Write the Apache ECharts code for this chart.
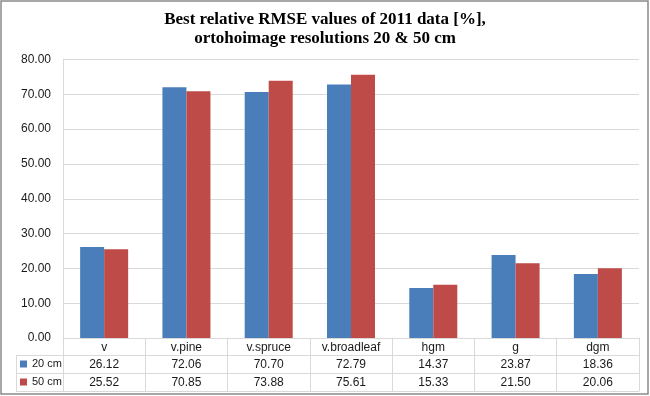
<!DOCTYPE html>
<html>
<head>
<meta charset="utf-8">
<script src="https://cdn.jsdelivr.net/npm/echarts@6/dist/echarts.min.js"></script>
<style>
  html, body { margin: 0; padding: 0; background: #fff; }
  #chart { width: 650px; height: 396px; }
</style>
</head>
<body>
<div id="chart"></div>
<script>
const categories = ['v', 'v.pine', 'v.spruce', 'v.broadleaf', 'hgm', 'g', 'dgm'];
const res20 = [26.12, 72.06, 70.70, 72.79, 14.37, 23.87, 18.36];
const res50 = [25.52, 70.85, 73.88, 75.61, 15.33, 21.50, 20.06];
const seriesNames = ['20 cm', '50 cm'];
const yTicks = { min: 0, max: 80, interval: 10 };

const FONT = '"Liberation Sans", Arial, sans-serif';
const LINE = '#d9d9d9';
const TXT = '#1a1a1a';

const myChart = echarts.init(document.getElementById('chart'));

// table rows under the plot are extra x axes pushed down by offset
const tableAxis = (data, offset, showLabel) => ({
  type: 'category',
  data: data,
  position: 'bottom',
  offset: offset,
  axisLine: { show: true, lineStyle: { color: LINE } },
  axisTick: { show: false },
  axisLabel: { show: showLabel, interval: 0, margin: 4, fontSize: 12, fontFamily: FONT, color: TXT },
  splitLine: { show: false }
});

const option = {
  animation: false,
  title: {
    text: 'Best relative RMSE values of 2011 data [%],\nortohoimage resolutions 20 & 50 cm',
    left: 'center',
    top: 5,
    textStyle: {
      fontFamily: '"Liberation Serif", "Times New Roman", serif',
      fontWeight: 'bold',
      fontSize: 17,
      lineHeight: 19,
      color: '#000'
    }
  },
  legend: {
    data: seriesNames,
    orient: 'vertical',
    left: 20,
    top: 357,
    padding: 0,
    icon: 'rect',
    itemWidth: 7,
    itemHeight: 7,
    itemGap: 4,
    textStyle: { fontSize: 11, lineHeight: 14, fontFamily: FONT, color: TXT }
  },
  grid: { left: 63, right: 11, top: 59.5, bottom: 58 },
  xAxis: [
    {
      type: 'category',
      data: categories,
      axisLine: { show: true, lineStyle: { color: LINE } },
      axisTick: { show: true, length: 53, lineStyle: { color: LINE } },
      axisLabel: { interval: 0, margin: 4, fontSize: 12, fontFamily: FONT, color: TXT }
    },
    tableAxis(res20.map(v => v.toFixed(2)), 17, true),
    tableAxis(res50.map(v => v.toFixed(2)), 35, true),
    tableAxis(categories.map(() => ''), 53, false)
  ],
  yAxis: {
    type: 'value',
    min: yTicks.min,
    max: yTicks.max,
    interval: yTicks.interval,
    axisLine: { show: true, lineStyle: { color: LINE } },
    axisTick: { show: false },
    axisLabel: {
      margin: 12,
      fontSize: 12,
      fontFamily: FONT,
      color: TXT,
      formatter: v => v.toFixed(2)
    },
    splitLine: { lineStyle: { color: LINE } }
  },
  series: [
    {
      name: seriesNames[0],
      type: 'bar',
      data: res20,
      barWidth: 24,
      barGap: '0%',
      itemStyle: { color: '#4A7EBB' }
    },
    {
      name: seriesNames[1],
      type: 'bar',
      data: res50,
      barWidth: 24,
      itemStyle: { color: '#BE4B48' }
    }
  ],
  graphic: [
    // legend cells left of the table
    { type: 'line', shape: { x1: 16.5, y1: 355.5, x2: 16.5, y2: 391.5 }, style: { stroke: LINE } },
    { type: 'line', shape: { x1: 16, y1: 355.5, x2: 63, y2: 355.5 }, style: { stroke: LINE } },
    { type: 'line', shape: { x1: 16, y1: 373.5, x2: 63, y2: 373.5 }, style: { stroke: LINE } },
    { type: 'line', shape: { x1: 16, y1: 391.5, x2: 63, y2: 391.5 }, style: { stroke: LINE } },
    // outer frame
    { type: 'rect', shape: { x: 1, y: 1, width: 647, height: 393 }, style: { fill: 'none', stroke: '#8a8a8a', lineWidth: 1.5 } }
  ]
};
myChart.setOption(option);
window.addEventListener('resize', function () {
  myChart.resize();
});
</script>
</body>
</html>
